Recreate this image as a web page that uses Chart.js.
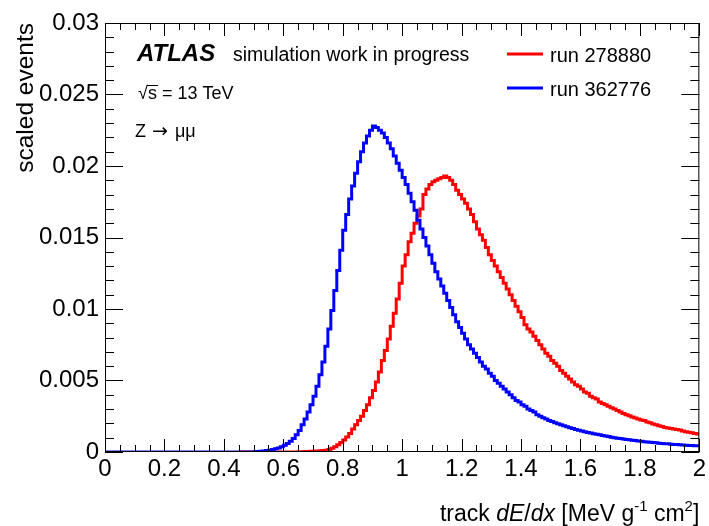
<!DOCTYPE html>
<html><head><meta charset="utf-8">
<script src="https://cdn.jsdelivr.net/npm/chart.js@4.4.1/dist/chart.umd.min.js"></script>
<style>html,body{margin:0;padding:0;background:#fff}canvas{display:block}</style>
</head><body>
<canvas id="c" width="709" height="526"></canvas>
<script>
// ---- data ----
const binWidth = 0.01;            // histogram bin width in dE/dx
const nBins = 200;                // bins from 0 to 2
const xTickValues = [0, 0.2, 0.4, 0.6, 0.8, 1, 1.2, 1.4, 1.6, 1.8, 2];
const xTickLabels = ['0', '0.2', '0.4', '0.6', '0.8', '1', '1.2', '1.4', '1.6', '1.8', '2'];
const yTickValues = [0, 0.005, 0.01, 0.015, 0.02, 0.025, 0.03];
const yTickLabels = ['0', '0.005', '0.01', '0.015', '0.02', '0.025', '0.03'];
const seriesNames = ['run 278880', 'run 362776'];

// run 278880 (red), one value per bin; null = bins not filled
const run278880 = [
  null,null,null,null,null,null,null,null,null,null,
  null,null,null,null,null,null,null,null,null,null,
  null,null,null,null,null,null,null,null,null,null,
  null,null,null,null,null,null,null,null,null,null,
  null,null,null,null,null,0,0,0,0,0,
  0,0,0,0,0,0,0,0,0,0,
  0,0,0,0,0,0.00001,0.00002,0.00003,0.00004,0.00005,
  0.00006,0.00007,0.00008,0.0001,0.00013,0.00018,0.00026,0.00036,0.0005,0.00066,
  0.00084,0.00105,0.0013,0.0016,0.0019,0.0022,0.0025,0.0029,0.0033,0.0038,
  0.0043,0.0049,0.0056,0.0064,0.0071,0.0079,0.0088,0.0097,0.0107,0.0118,
  0.0130,0.0138,0.0147,0.0153,0.0160,0.0165,0.0170,0.0180,0.0184,0.0187,
  0.0189,0.0190,0.0191,0.0192,0.0193,0.0192,0.0190,0.0187,0.0183,0.0180,
  0.0177,0.0174,0.0170,0.0166,0.0161,0.0156,0.0152,0.0148,0.0143,0.0138,
  0.0134,0.0130,0.0126,0.0122,0.0118,0.0114,0.0110,0.0106,0.0102,0.0098,
  0.0094,0.0089,0.0086,0.0084,0.0081,0.0078,0.0075,0.0072,0.0069,0.0067,
  0.0064,0.0062,0.0060,0.0057,0.0055,0.0053,0.0051,0.0049,0.0047,0.0046,
  0.0044,0.0042,0.0041,0.0039,0.0038,0.0037,0.0035,0.0034,0.0033,0.0032,
  0.0031,0.0030,0.0029,0.0028,0.0027,0.0026,0.00253,0.00245,0.00238,0.0023,
  0.00223,0.0022,0.0021,0.00205,0.00195,0.0019,0.00183,0.00178,0.00172,0.00168,
  0.00164,0.0016,0.00157,0.00153,0.00147,0.00142,0.00138,0.00135,0.0013,0.00126
];

// run 362776 (blue), one value per bin
const run362776 = [
  0,0,0,0,0,0,0,0,0,0,
  0,0,0,0,0,0,0,0,0,0,
  0,0,0,0,0,0,0,0,0,0,
  0,0,0,0,0,0,0,0,0,0,
  0,0,0,0,0,0,0,0,0,0,
  0.00002,0.00003,0.00005,0.00007,0.0001,0.00013,0.00017,0.00022,0.00028,0.00036,
  0.00047,0.0006,0.00076,0.00095,0.0012,0.0015,0.0019,0.0023,0.0028,0.0033,
  0.0039,0.0046,0.0054,0.0063,0.0074,0.0086,0.0099,0.0113,0.0127,0.0141,
  0.0155,0.0166,0.0177,0.0186,0.0195,0.0203,0.0210,0.0216,0.0221,0.0225,
  0.0228,0.0227,0.0225,0.0223,0.0220,0.0216,0.0212,0.0207,0.0202,0.0197,
  0.0192,0.0187,0.0181,0.0175,0.0169,0.0162,0.0156,0.0150,0.0144,0.0138,
  0.0132,0.0126,0.0121,0.0116,0.0111,0.0106,0.0101,0.0096,0.0091,0.0087,
  0.0083,0.0079,0.0075,0.0072,0.0069,0.0066,0.0063,0.0060,0.0058,0.0055,
  0.0053,0.0050,0.0048,0.0046,0.0044,0.0042,0.0040,0.0038,0.0036,0.0035,
  0.0033,0.0032,0.0030,0.0029,0.0028,0.0026,0.0025,0.0024,0.0023,0.0022,
  0.00213,0.00205,0.00197,0.0019,0.00183,0.00176,0.0017,0.00164,0.00158,0.00152,
  0.00147,0.00142,0.00137,0.00133,0.00128,0.00124,0.0012,0.00116,0.00112,0.00108,
  0.00104,0.001,0.00097,0.00094,0.00091,0.00088,0.00085,0.00082,0.0008,0.00077,
  0.00075,0.00072,0.0007,0.00068,0.00066,0.00064,0.00062,0.0006,0.00058,0.00057,
  0.00055,0.00053,0.00052,0.0005,0.00049,0.00048,0.00046,0.00045,0.00044,0.00043
];

// ---- build step-histogram points (bin lower edge -> value, plus closing edge) ----
function histPoints(vals) {
  const pts = vals.map((v, i) => ({x: i * binWidth, y: v}));
  pts.push({x: nBins * binWidth, y: vals[vals.length - 1]});
  return pts;
}

const FONT = '"Liberation Sans", Arial, Helvetica, sans-serif';

const rootStyle = {
  id: 'rootStyle',
  afterDatasetsDraw(chart) {
    const {ctx, chartArea: a, scales: {x, y}} = chart;
    ctx.save();
    ctx.strokeStyle = '#000';
    ctx.lineWidth = 1;
    ctx.strokeRect(a.left + 0.5, a.top + 0.5, a.right - a.left - 1, a.bottom - a.top - 1);
    ctx.beginPath();
    for (let k = 0; k <= 40; k++) {
      const px = Math.round(x.getPixelForValue(k * 0.05)) + 0.5;
      const len = (k % 4 === 0) ? 13 : 7;
      ctx.moveTo(px, a.bottom); ctx.lineTo(px, a.bottom - len);
      ctx.moveTo(px, a.top); ctx.lineTo(px, a.top + len);
    }
    for (let k = 0; k <= 30; k++) {
      const py = Math.round(y.getPixelForValue(k * 0.001)) + 0.5;
      const len = (k % 5 === 0) ? 18 : 9;
      ctx.moveTo(a.left, py); ctx.lineTo(a.left + len, py);
      ctx.moveTo(a.right, py); ctx.lineTo(a.right - len, py);
    }
    ctx.stroke();
    ctx.restore();
  },
  afterDraw(chart) {
    const {ctx, chartArea: a} = chart;
    ctx.save();
    ctx.fillStyle = '#000';
    ctx.textBaseline = 'alphabetic';
    ctx.textAlign = 'left';
    ctx.font = 'italic bold 24px ' + FONT;
    ctx.fillText('ATLAS', 137, 61);
    ctx.font = '19.5px ' + FONT;
    ctx.fillText('simulation work in progress', 233, 61);
    ctx.font = '18px ' + FONT;
    const rootW = ctx.measureText('\u221A').width;
    const sW = ctx.measureText('s').width;
    ctx.fillText('\u221As = 13 TeV', 138, 99);
    ctx.beginPath();
    ctx.lineWidth = 1;
    ctx.moveTo(138 + rootW - 1, 85.5); ctx.lineTo(138 + rootW + sW + 1, 85.5);
    ctx.stroke();
    // Z -> mu mu
    ctx.font = '18px ' + FONT;
    ctx.fillText('Z', 135, 137);
    let zx = 135 + ctx.measureText('Z').width + 6;
    ctx.font = '19px "DejaVu Sans", sans-serif';
    ctx.fillText('\u2192', zx, 137);
    zx += ctx.measureText('\u2192').width + 7;
    ctx.font = '18px ' + FONT;
    ctx.fillText('\u03BC\u03BC', zx, 137);
    const leg = [{c: '#ff0000', y: 54, t: seriesNames[0]}, {c: '#0000ff', y: 88, t: seriesNames[1]}];
    ctx.font = '20px ' + FONT;
    leg.forEach(l => {
      ctx.strokeStyle = l.c; ctx.lineWidth = 3;
      ctx.beginPath(); ctx.moveTo(507, l.y); ctx.lineTo(543, l.y); ctx.stroke();
      ctx.fillStyle = '#000';
      ctx.fillText(l.t, 550, l.y + 8);
    });
    ctx.save();
    ctx.translate(33, a.top);
    ctx.rotate(-Math.PI / 2);
    ctx.textAlign = 'right';
    ctx.font = '24.5px ' + FONT;
    ctx.fillText('scaled events', 0, 0);
    ctx.restore();
    const segs = [
      {t: 'track ', f: '23px ', dy: 0},
      {t: 'dE', f: 'italic 23px ', dy: 0},
      {t: '/', f: '23px ', dy: 0},
      {t: 'dx', f: 'italic 23px ', dy: 0},
      {t: ' [MeV g', f: '23px ', dy: 0},
      {t: '-1', f: '15px ', dy: -10},
      {t: ' cm', f: '23px ', dy: 0},
      {t: '2', f: '15px ', dy: -10},
      {t: ']', f: '23px ', dy: 0}
    ];
    let total = 0;
    segs.forEach(s => { ctx.font = s.f + FONT; s.w = ctx.measureText(s.t).width; total += s.w; });
    let cx = a.right - total;
    segs.forEach(s => { ctx.font = s.f + FONT; ctx.fillText(s.t, cx, 521 + s.dy); cx += s.w; });
    ctx.restore();
  }
};

new Chart(document.getElementById('c'), {
  type: 'line',
  data: {
    datasets: [
      {label: seriesNames[0], data: histPoints(run278880), borderColor: '#ff0000', borderWidth: 3,
       stepped: 'before', pointRadius: 0, fill: false, order: 1, spanGaps: false},
      {label: seriesNames[1], data: histPoints(run362776), borderColor: '#0000ff', borderWidth: 3,
       stepped: 'before', pointRadius: 0, fill: false, order: 0}
    ]
  },
  options: {
    responsive: false,
    animation: false,
    devicePixelRatio: 1,
    layout: {padding: {top: 23, right: 5, left: 0, bottom: 0}},
    plugins: {legend: {display: false}, tooltip: {enabled: false}},
    scales: {
      x: {
        type: 'linear', min: 0, max: 2,
        afterFit: s => { s.height = 74; },
        afterBuildTicks: s => { s.ticks = xTickValues.map(v => ({value: v})); },
        ticks: {
          callback: (v) => { const i = xTickValues.findIndex(t => Math.abs(t - v) < 1e-9); return i >= 0 ? xTickLabels[i] : ''; },
          font: {family: FONT, size: 24}, color: '#000', padding: 3, maxRotation: 0, autoSkip: false
        },
        grid: {display: false, drawTicks: false},
        border: {display: false}
      },
      y: {
        type: 'linear', min: 0, max: 0.03,
        afterFit: s => { s.width = 105; },
        afterBuildTicks: s => { s.ticks = yTickValues.map(v => ({value: v})); },
        ticks: {
          callback: (v) => { const i = yTickValues.findIndex(t => Math.abs(t - v) < 1e-12); return i >= 0 ? yTickLabels[i] : ''; },
          font: {family: FONT, size: 24}, color: '#000', padding: 6, autoSkip: false
        },
        grid: {display: false, drawTicks: false},
        border: {display: false}
      }
    }
  },
  plugins: [rootStyle]
});
</script>
</body></html>
